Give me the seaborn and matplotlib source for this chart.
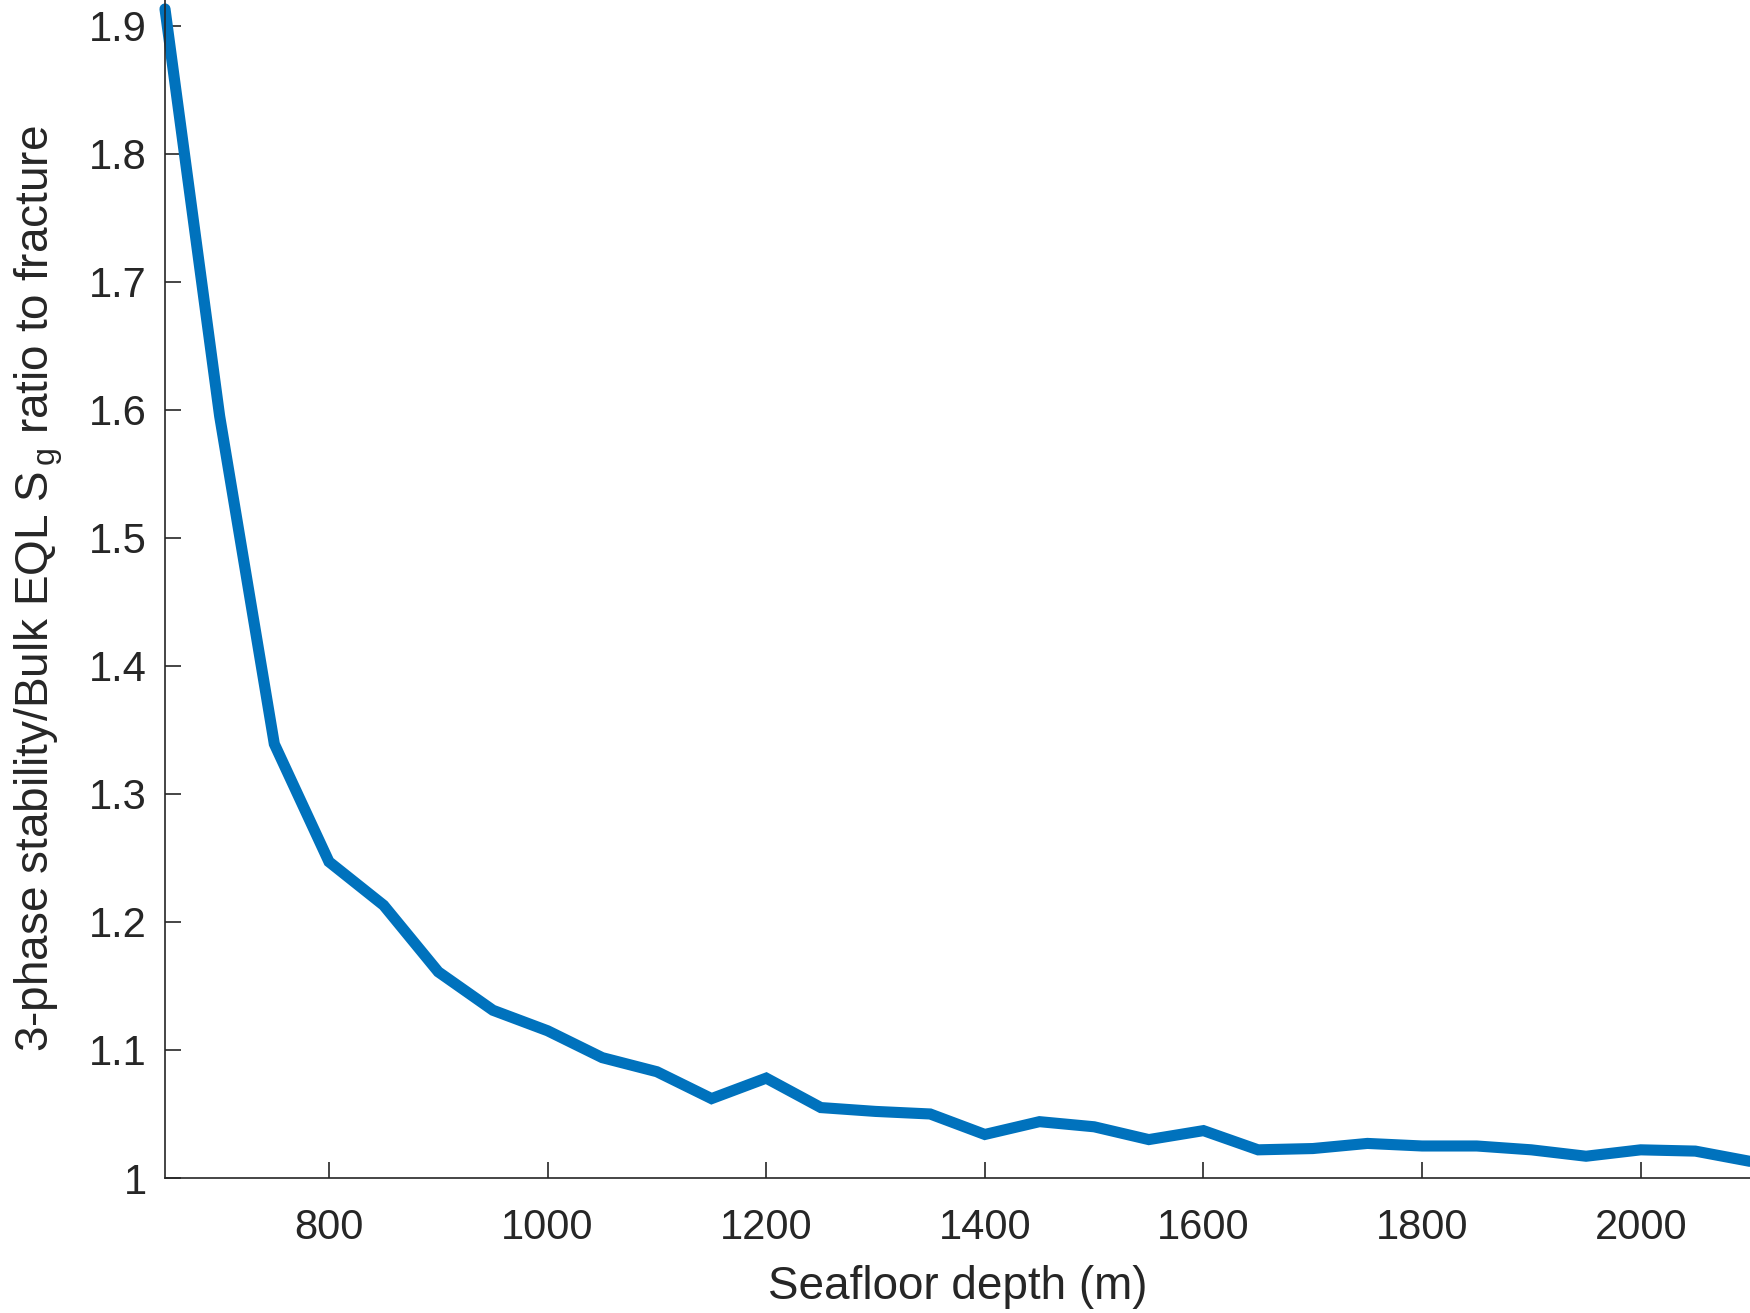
import numpy as np
import pandas as pd
import matplotlib
matplotlib.use("Agg")
import matplotlib.pyplot as plt
import seaborn as sns

# seafloor depth (m) and ratio
depth = [650, 700, 750, 800, 850, 900, 950, 1000, 1050, 1100,
         1150, 1200, 1250, 1300, 1350, 1400, 1450, 1500, 1550, 1600,
         1650, 1700, 1750, 1800, 1850, 1900, 1950, 2000, 2050, 2100]
ratio = [1.913, 1.595, 1.339, 1.247, 1.213, 1.161, 1.131, 1.115, 1.094, 1.083,
         1.062, 1.078, 1.055, 1.052, 1.050, 1.034, 1.044, 1.040, 1.030, 1.037,
         1.022, 1.023, 1.027, 1.025, 1.025, 1.022, 1.017, 1.022, 1.021, 1.013]
xticks = [800, 1000, 1200, 1400, 1600, 1800, 2000]
yticks = [1, 1.1, 1.2, 1.3, 1.4, 1.5, 1.6, 1.7, 1.8, 1.9]
ytick_labels = ["1", "1.1", "1.2", "1.3", "1.4", "1.5", "1.6", "1.7", "1.8", "1.9"]

df = pd.DataFrame({"depth": depth, "ratio": ratio})

sns.set_style("ticks")
plt.rcParams["font.family"] = ["Liberation Sans", "DejaVu Sans"]
plt.rcParams["mathtext.fontset"] = "custom"
plt.rcParams["mathtext.rm"] = "Liberation Sans"
plt.rcParams["mathtext.it"] = "Liberation Sans"

dark = "#262626"
fig = plt.figure(figsize=(17.5, 13.13), dpi=100)
ax = fig.add_axes([165 / 1750, 135 / 1313, 1585 / 1750, 1178 / 1313])

sns.lineplot(data=df, x="depth", y="ratio", ax=ax, color="#0072BD",
             linewidth=8, solid_capstyle="round", solid_joinstyle="miter",
             clip_on=False)

ax.set_xlim(650, 2100)
ax.set_ylim(1, 1.92)
ax.set_xticks(xticks)
ax.set_yticks(yticks)
ax.set_yticklabels(ytick_labels)

ax.tick_params(direction="in", length=11.5, width=1.2, colors=dark,
               labelsize=30, labelcolor=dark)
ax.tick_params(axis="x", pad=21.5)
ax.tick_params(axis="y", pad=13)

for side in ["top", "right"]:
    ax.spines[side].set_visible(False)
for side in ["left", "bottom"]:
    ax.spines[side].set_color(dark)
    ax.spines[side].set_linewidth(1.2)

ax.set_xlabel("Seafloor depth (m)", fontsize=33, color=dark, labelpad=12)
ax.set_ylabel(r"3-phase stability/Bulk EQL S$_\mathregular{\,g}$ ratio to fracture",
              fontsize=33, color=dark, labelpad=17)

fig.savefig("out.png", dpi=100)
